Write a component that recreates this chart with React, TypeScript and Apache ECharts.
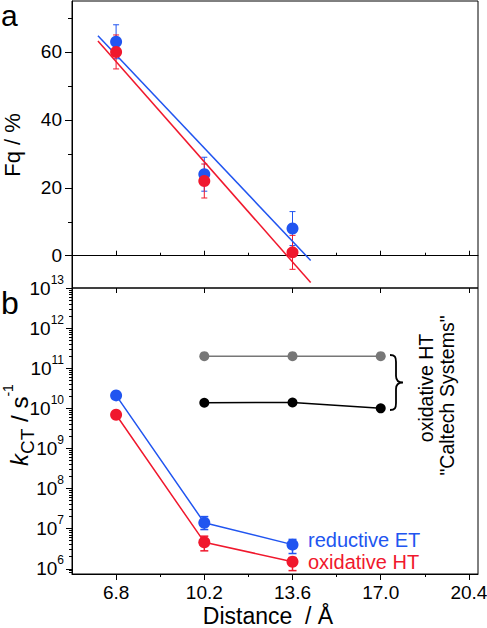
import React, { useEffect, useRef } from "react";
import * as echarts from "echarts";

// ---------- data ----------
const xTicks = [6.8, 10.2, 13.6, 17.0, 20.4];
const xMinorTicks = [8.5, 11.9, 15.3, 18.7];
const fqTicks = [0, 20, 40, 60];
const fqMinorTicks = [10, 30, 50, 70];
const kTicks = [1e6, 1e7, 1e8, 1e9, 1e10, 1e11, 1e12, 1e13];
const kMinorMultipliers = [2, 3, 4, 5, 6, 7, 8, 9];
const kMinorDecades = [1e5, 1e6, 1e7, 1e8, 1e9, 1e10, 1e11, 1e12];

// panel a: Fq / %
const fqReductive = [[6.8, 63], [10.2, 24], [13.6, 8]];
const fqOxidative = [[6.8, 60], [10.2, 22], [13.6, 1]];
const fqReductiveErr = [[6.8, 58, 68], [10.2, 19, 29], [13.6, 3, 13]];
const fqOxidativeErr = [[6.8, 55, 65], [10.2, 17, 27], [13.6, -4, 6]];
const fqReductiveFit = [[6.1, 64.8], [14.3, -1.4]];
const fqOxidativeFit = [[6.1, 63.2], [14.3, -7.9]];

// panel b: kCT / s^-1
const kReductive = [[6.8, 2.1e10], [10.2, 1.4e7], [13.6, 4.0e6]];
const kOxidative = [[6.8, 6.9e9], [10.2, 4.6e6], [13.6, 1.5e6]];
const kReductiveErr = [[10.2, 9.5e6, 2.0e7], [13.6, 2.4e6, 5.4e6]];
const kOxidativeErr = [[10.2, 2.8e6, 6.5e6], [13.6, 9.0e5, 1.9e6]];
const caltechGray = [[10.2, 2e11], [13.6, 2e11], [17.0, 2e11]];
const caltechBlack = [[10.2, 1.38e10], [13.6, 1.4e10], [17.0, 1.0e10]];

// ---------- style ----------
const FONT = '"Liberation Sans", Arial, Helvetica, sans-serif';
const BLUE = "#2155f0";
const RED = "#f0182d";
const GRAY = "#777777";
const BLACK = "#000000";

const BRACE_D =
  "M0,0 C5,0 6,2 6,7 L6,21 C6,25 8,27.5 13,27.5 C8,27.5 6,30 6,34 L6,48 C6,53 5,55 0,55";
echarts.graphic.registerShape("brace", echarts.graphic.extendPath(BRACE_D, {}));

const kMinorTicks: number[] = [];
kMinorDecades.forEach((d) => kMinorMultipliers.forEach((m) => kMinorTicks.push(d * m)));

const lineStyle = { color: "#000", width: 1 };

function errSeries(data: number[][], xi: number, yi: number, color: string, capHalf: number, lw: number) {
  return {
    type: "custom",
    xAxisIndex: xi,
    yAxisIndex: yi,
    data,
    z: 2,
    silent: true,
    encode: { x: 0, y: [1, 2] },
    renderItem: (_params: any, api: any) => {
      const x = api.value(0);
      const lo = api.value(1);
      const hi = api.value(2);
      const a = api.coord([x, hi]);
      const b = api.coord([x, lo]);
      const st = { stroke: color, lineWidth: lw, fill: "none" };
      return {
        type: "group",
        children: [
          { type: "line", shape: { x1: a[0], y1: a[1], x2: b[0], y2: b[1] }, style: st },
          { type: "line", shape: { x1: a[0] - capHalf, y1: a[1], x2: a[0] + capHalf, y2: a[1] }, style: st },
          { type: "line", shape: { x1: b[0] - capHalf, y1: b[1], x2: b[0] + capHalf, y2: b[1] }, style: st },
        ],
      };
    },
  };
}

function tickAxis(extra: any) {
  return {
    type: "value",
    splitLine: { show: false },
    axisLine: { show: false, lineStyle },
    axisLabel: { show: false },
    ...extra,
  };
}

const X_MIN = 5.1;
const X_MAX = 20.75;

const option: any = {
  animation: false,
  backgroundColor: "#fff",
  grid: [
    { left: 72, top: 1, width: 406, height: 287, show: true, borderColor: "#000", borderWidth: 1, backgroundColor: "transparent", outerBoundsMode: "none" },
    { left: 72, top: 288, width: 406, height: 286, show: true, borderColor: "#000", borderWidth: 1, backgroundColor: "transparent", outerBoundsMode: "none" },
  ],
  xAxis: [
    tickAxis({ gridIndex: 0, position: "bottom", min: X_MIN, max: X_MAX, axisLine: { show: true, lineStyle }, axisTick: { show: true, inside: true, length: 5, customValues: xTicks, lineStyle } }),
    tickAxis({ gridIndex: 0, position: "bottom", min: X_MIN, max: X_MAX, axisTick: { show: true, inside: true, length: 3, customValues: xMinorTicks, lineStyle } }),
    tickAxis({ gridIndex: 1, position: "top", min: X_MIN, max: X_MAX, axisTick: { show: true, inside: true, length: 5, customValues: xTicks, lineStyle } }),
    tickAxis({
      gridIndex: 1, position: "bottom", min: X_MIN, max: X_MAX,
      axisLine: { show: true, lineStyle },
      axisTick: { show: true, inside: false, length: 6, customValues: xTicks, lineStyle },
      axisLabel: { show: true, customValues: xTicks, formatter: (v: number) => v.toFixed(1), fontSize: 19, fontFamily: FONT, color: "#000", margin: 9 },
    }),
    tickAxis({ gridIndex: 1, position: "bottom", min: X_MIN, max: X_MAX, axisTick: { show: true, inside: false, length: 3, customValues: xMinorTicks, lineStyle } }),
  ],
  yAxis: [
    tickAxis({
      gridIndex: 0, position: "left", min: -9.5, max: 75,
      axisLine: { show: true, lineStyle },
      axisTick: { show: true, inside: false, length: 7, customValues: fqTicks, lineStyle },
      axisLabel: { show: true, customValues: fqTicks, fontSize: 19, fontFamily: FONT, color: "#000", margin: 10 },
    }),
    tickAxis({ gridIndex: 0, position: "left", min: -9.5, max: 75, axisTick: { show: true, inside: false, length: 4, customValues: fqMinorTicks, lineStyle } }),
    {
      type: "log", gridIndex: 1, position: "left", min: 7.41e5, max: 1e13, logBase: 10,
      splitLine: { show: false },
      axisLine: { show: true, lineStyle },
      axisTick: { show: true, inside: false, length: 6, customValues: kTicks, lineStyle },
      axisLabel: {
        show: true, customValues: kTicks, margin: 8, fontFamily: FONT, color: "#000", fontSize: 19,
        formatter: (v: number) => "{m|10}{s|" + Math.round(Math.log10(v)) + "}",
        rich: {
          m: { fontSize: 19, lineHeight: 29, fontFamily: FONT, color: "#000" },
          s: { fontSize: 12, lineHeight: 12, verticalAlign: "top", fontFamily: FONT, color: "#000" },
        },
      },
    },
    {
      type: "log", gridIndex: 1, position: "left", min: 7.41e5, max: 1e13, logBase: 10,
      splitLine: { show: false },
      axisLine: { show: false },
      axisLabel: { show: false },
      axisTick: { show: true, inside: false, length: 3, customValues: kMinorTicks, lineStyle },
    },
  ],
  series: [
    // panel a
    errSeries(fqReductiveErr, 0, 0, BLUE, 3, 1),
    errSeries(fqOxidativeErr, 0, 0, RED, 3, 1),
    { type: "line", xAxisIndex: 0, yAxisIndex: 0, data: fqReductiveFit, showSymbol: false, symbol: "none", z: 3, lineStyle: { color: BLUE, width: 1.5 }, silent: true },
    { type: "line", xAxisIndex: 0, yAxisIndex: 0, data: fqOxidativeFit, showSymbol: false, symbol: "none", z: 3, lineStyle: { color: RED, width: 1.5 }, silent: true },
    { type: "scatter", xAxisIndex: 0, yAxisIndex: 0, data: fqReductive, symbol: "circle", symbolSize: 12, z: 4, itemStyle: { color: BLUE, opacity: 1 } },
    { type: "scatter", xAxisIndex: 0, yAxisIndex: 0, data: fqOxidative, symbol: "circle", symbolSize: 12, z: 4, itemStyle: { color: RED, opacity: 1 } },
    // panel b
    errSeries(kReductiveErr, 3, 2, BLUE, 4, 1.5),
    errSeries(kOxidativeErr, 3, 2, RED, 4, 1.5),
    { type: "line", xAxisIndex: 3, yAxisIndex: 2, data: caltechGray, symbol: "circle", symbolSize: 10, showSymbol: true, z: 3, lineStyle: { color: GRAY, width: 1.5 }, itemStyle: { color: GRAY } },
    { type: "line", xAxisIndex: 3, yAxisIndex: 2, data: caltechBlack, symbol: "circle", symbolSize: 10, showSymbol: true, z: 3, lineStyle: { color: BLACK, width: 1.5 }, itemStyle: { color: BLACK } },
    { type: "line", xAxisIndex: 3, yAxisIndex: 2, data: kReductive, symbol: "circle", symbolSize: 12, showSymbol: true, z: 4, lineStyle: { color: BLUE, width: 1.5 }, itemStyle: { color: BLUE } },
    { type: "line", xAxisIndex: 3, yAxisIndex: 2, data: kOxidative, symbol: "circle", symbolSize: 12, showSymbol: true, z: 4, lineStyle: { color: RED, width: 1.5 }, itemStyle: { color: RED } },
  ],
  graphic: [
    { type: "text", x: 1, y: 15, style: { text: "a", fontSize: 30, fontFamily: FONT, fill: "#000", align: "left", verticalAlign: "middle" } },
    { type: "text", x: 1, y: 303, style: { text: "b", fontSize: 32, fontFamily: FONT, fill: "#000", align: "left", verticalAlign: "middle" } },
    { type: "text", x: 12, y: 145, rotation: Math.PI / 2, style: { text: "Fq / %", fontSize: 22, fontFamily: FONT, fill: "#000", align: "center", verticalAlign: "middle" } },
    {
      type: "text", x: 19, y: 425, rotation: Math.PI / 2,
      style: {
        text: "{k|k}{sub|CT}{m| / s}{sup|-1}", fontFamily: FONT, fill: "#000", align: "center", verticalAlign: "middle",
        rich: {
          k: { fontSize: 24, fontStyle: "italic", lineHeight: 36, fontFamily: FONT, fill: "#000" },
          sub: { fontSize: 19, lineHeight: 19, verticalAlign: "bottom", fontFamily: FONT, fill: "#000" },
          m: { fontSize: 24, lineHeight: 36, fontFamily: FONT, fill: "#000" },
          sup: { fontSize: 14, lineHeight: 14, verticalAlign: "top", fontFamily: FONT, fill: "#000" },
        },
      },
    },
    { type: "text", x: 268, y: 616, style: { text: "Distance  / Å", fontSize: 23, fontFamily: FONT, fill: "#000", align: "center", verticalAlign: "middle" } },
    { type: "text", x: 308, y: 540, style: { text: "reductive ET", fontSize: 20, fontFamily: FONT, fill: BLUE, align: "left", verticalAlign: "middle" } },
    { type: "text", x: 308, y: 561.5, style: { text: "oxidative HT", fontSize: 20, fontFamily: FONT, fill: RED, align: "left", verticalAlign: "middle" } },
    { type: "text", x: 425.5, y: 388, rotation: Math.PI / 2, style: { text: "oxidative HT", fontSize: 19.5, fontFamily: FONT, fill: "#000", align: "center", verticalAlign: "middle" } },
    { type: "text", x: 447, y: 395.5, rotation: Math.PI / 2, style: { text: '"Caltech Systems"', fontSize: 19.5, fontFamily: FONT, fill: "#000", align: "center", verticalAlign: "middle" } },
    { type: "brace", x: 390, y: 355, style: { fill: "none", stroke: "#000", lineWidth: 1.8 } },
  ],
};

export default function App() {
  const ref = useRef<HTMLDivElement>(null);
  useEffect(() => {
    document.body.style.margin = "0";
    const chart = echarts.init(ref.current!, null, { renderer: "svg" });
    chart.setOption(option);
    return () => chart.dispose();
  }, []);
  return <div ref={ref} style={{ width: 487, height: 628, position: "absolute", left: 0, top: 0 }} />;
}
